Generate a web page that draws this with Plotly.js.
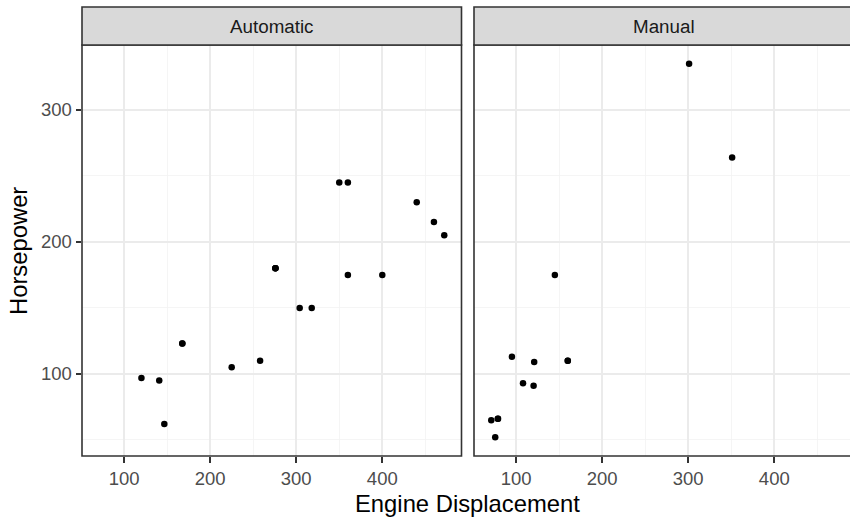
<!DOCTYPE html>
<html>
<head>
<meta charset="utf-8">
<script src="https://cdn.plot.ly/plotly-3.0.1.min.js"></script>
<style>html,body{margin:0;padding:0;background:#fff;}#chart{width:850px;height:517px;}</style>
</head>
<body>
<div id="chart"></div>
<script>
// Data (mtcars: displacement vs horsepower, split by transmission)
const facetLabels = ["Automatic", "Manual"];
const autoDisp = [258, 360, 225, 360, 146.7, 140.8, 167.6, 167.6, 275.8, 275.8, 275.8, 472, 460, 440, 120.1, 318, 304, 350, 400];
const autoHp   = [110, 175, 105, 245, 62, 95, 123, 123, 180, 180, 180, 205, 215, 230, 97, 150, 150, 245, 175];
const manDisp  = [160, 160, 108, 78.7, 75.7, 71.1, 79, 120.3, 95.1, 351, 145, 301, 121];
const manHp    = [110, 110, 93, 66, 52, 65, 66, 91, 113, 264, 175, 335, 109];
const xTitle = "Engine Displacement";
const yTitle = "Horsepower";

const W = 850, H = 517;
const px = v => v / W;
const py = v => (H - v) / H;

const p1 = [82, 461.5], p2 = [474, 850];
const panelTop = 45, panelBottom = 456, stripTop = 7;
const xr1 = [51.05, 492.05];
const unitPerPx = (xr1[1] - xr1[0]) / (p1[1] - p1[0]);
const xr2 = [51.05, 51.05 + (p2[1] - p2[0]) * unitPerPx];
const yr = [37.85, 349.15];

const font = "Liberation Sans, Arial, sans-serif";
const tickFont = {family: font, size: 18.5, color: "#4D4D4D"};

const marker = {color: "#000000", size: 6.5};
const traces = [
  {x: autoDisp, y: autoHp, type: "scatter", mode: "markers", marker: marker, xaxis: "x", yaxis: "y", hoverinfo: "skip"},
  {x: manDisp, y: manHp, type: "scatter", mode: "markers", marker: marker, xaxis: "x2", yaxis: "y2", hoverinfo: "skip"}
];

function xaxis(domain, range, anchor) {
  return {
    domain: domain, range: range, anchor: anchor, tick0: 0, dtick: 100,
    showgrid: true, gridcolor: "#EBEBEB", gridwidth: 1.6,
    minor: {tick0: 0, dtick: 50, showgrid: true, gridcolor: "#F2F2F2", gridwidth: 0.8, ticks: ""},
    zeroline: false, showline: false,
    ticks: "outside", ticklen: 5.5, tickwidth: 1.6, tickcolor: "#333333",
    tickfont: tickFont, fixedrange: true
  };
}
function yaxis(anchor, showLabels) {
  return {
    domain: [py(panelBottom), py(panelTop)], range: yr, anchor: anchor, tick0: 0, dtick: 100,
    showgrid: true, gridcolor: "#EBEBEB", gridwidth: 1.6,
    minor: {tick0: 0, dtick: 50, showgrid: true, gridcolor: "#F2F2F2", gridwidth: 0.8, ticks: ""},
    zeroline: false, showline: false,
    ticks: showLabels ? "outside" : "", ticklen: 5.5, tickwidth: 1.6, tickcolor: "#333333",
    showticklabels: showLabels, tickfont: tickFont, fixedrange: true
  };
}

const shapes = [];
const annotations = [];
[[p1, facetLabels[0], false], [p2, facetLabels[1], true]].forEach(([p, lab, clipped]) => {
  const right = clipped ? p[1] + 6 : p[1];
  const centre = clipped ? p[0] + (p1[1] - p1[0]) / 2 : (p[0] + p[1]) / 2;
  shapes.push({type: "rect", xref: "paper", yref: "paper", x0: px(p[0]), x1: px(right), y0: py(panelBottom), y1: py(panelTop),
    line: {color: "#333333", width: 1.6}, fillcolor: "rgba(0,0,0,0)", layer: "above"});
  shapes.push({type: "rect", xref: "paper", yref: "paper", x0: px(p[0]), x1: px(right), y0: py(panelTop), y1: py(stripTop),
    line: {color: "#333333", width: 1.6}, fillcolor: "#D9D9D9", layer: "above"});
  annotations.push({text: lab, xref: "paper", yref: "paper", x: px(centre),
    y: py((panelTop + stripTop) / 2), showarrow: false, xanchor: "center", yanchor: "middle",
    font: {family: font, size: 18.8, color: "#1A1A1A"}});
});
annotations.push({text: xTitle, xref: "paper", yref: "paper", x: px(467.5), y: py(503), showarrow: false,
  xanchor: "center", yanchor: "middle", font: {family: font, size: 23.8, color: "#000000"}});
annotations.push({text: yTitle, xref: "paper", yref: "paper", x: px(18.5), y: py(251.5), showarrow: false, textangle: -90,
  xanchor: "center", yanchor: "middle", font: {family: font, size: 23.8, color: "#000000"}});

const layout = {
  width: W, height: H, margin: {l: 0, r: 0, t: 0, b: 0},
  paper_bgcolor: "#FFFFFF", plot_bgcolor: "#FFFFFF", showlegend: false,
  xaxis: xaxis([px(p1[0]), px(p1[1])], xr1, "y"),
  xaxis2: xaxis([px(p2[0]), 1], xr2, "y2"),
  yaxis: yaxis("x", true),
  yaxis2: yaxis("x2", false),
  shapes: shapes, annotations: annotations,
  font: {family: font}
};

Plotly.newPlot("chart", traces, layout, {staticPlot: true, displayModeBar: false});
</script>
</body>
</html>
